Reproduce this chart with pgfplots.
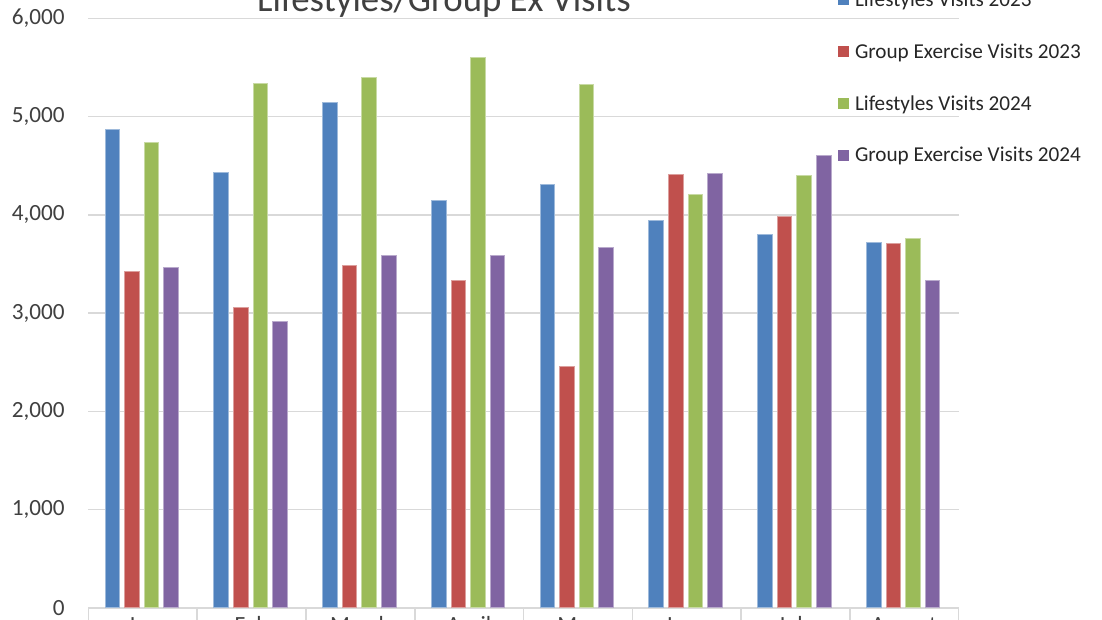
\documentclass[border=0pt]{standalone}
\usepackage{fontspec}
\setmainfont{Carlito}
\usepackage{pgfplots}
\usepackage{pgfplotstable}
\pgfplotsset{compat=1.18}
\definecolor{cblue}{HTML}{4F81BD}
\definecolor{cred}{HTML}{C0504D}
\definecolor{cgreen}{HTML}{9BBB59}
\definecolor{cpurple}{HTML}{8064A2}
\definecolor{gridgray}{HTML}{D9D9D9}
\definecolor{txt}{HTML}{404040}
\definecolor{legtxt}{HTML}{262626}

\pgfplotstableread{
x ls23 ge23 ls24 ge24
0 4870 3420 4740 3460
1 4430 3055 5340 2915
2 5145 3485 5395 3590
3 4150 3330 5605 3590
4 4310 2455 5330 3670
5 3945 4415 4205 4425
6 3800 3980 4400 4600
7 3720 3705 3760 3330
}\visits

\begin{document}
\begin{tikzpicture}
\path[use as bounding box] (-44.25pt,-6pt) rectangle (506.75pt,304pt);
\begin{scope}[overlay]
\clip (-44.25pt,-6pt) rectangle (506.75pt,304pt);
\begin{axis}[
  at={(0pt,0pt)}, anchor=south west, scale only axis,
  width=435pt, height=294.85pt,
  xmin=-0.5, xmax=7.5, ymin=0, ymax=6000,
  axis x line*=bottom, axis y line*=left,
  x axis line style={draw=gridgray, line width=0.75pt, -},
  y axis line style={draw=none},
  ytick={0,1000,...,6000},
  ymajorgrids, grid style={draw=gridgray, line width=0.75pt},
  major y tick style={draw=none},
  yticklabel style={font=\fontsize{11.6}{13}\selectfont, text=txt, anchor=east, inner sep=0pt, xshift=-11.75pt},
  /pgf/number format/assume math mode=true,
  /pgf/number format/1000 sep={,},
  scaled y ticks=false,
  xtick={0,1,2,3,4,5,6,7},
  xticklabels={Jan,Feb,March,April,May,June,July,August},
  major x tick style={draw=none},
  xticklabel style={font=\fontsize{11.6}{13}\selectfont, text=txt, anchor=base, inner sep=0pt, yshift=-8.1pt},
  extra x ticks={-0.5,0.5,1.5,2.5,3.5,4.5,5.5,6.5,7.5},
  extra x tick labels={},
  extra x tick style={grid=none, tick align=outside, major tick length=20pt,
     major x tick style={draw=gridgray, line width=0.75pt}},
  ybar, bar width=7.3pt,
  title={Lifestyles/Group Ex Visits},
  title style={at={(0.4086,1.01408)}, anchor=base, yshift=-6.8pt, font=\fontsize{18.4}{22}\selectfont, text=txt, inner sep=0pt},
  legend style={at={(0.8615,1.0471)}, anchor=north west, draw=none, fill=none,
     inner sep=0pt, outer sep=0pt, row sep=15.9pt, column sep=3pt,
     font=\fontsize{10.6}{12}\selectfont, text=legtxt,
     nodes={inner sep=0pt, text height=8pt, text depth=2pt, anchor=base west}},
  legend cell align=left,
  legend image code/.code={\fill[#1, draw=none] (0pt,0.6pt) rectangle (5.5pt,6.1pt);},
]
\addplot[fill=cblue, draw=cblue!55!white, line width=0.5pt, bar shift=-15.2pt] table[x=x, y=ls23] {\visits};
\addplot[fill=cred, draw=cred!55!white, line width=0.5pt, bar shift=-5.4pt] table[x=x, y=ge23] {\visits};
\addplot[fill=cgreen, draw=cgreen!55!white, line width=0.5pt, bar shift=4.4pt] table[x=x, y=ls24] {\visits};
\addplot[fill=cpurple, draw=cpurple!55!white, line width=0.5pt, bar shift=14.2pt] table[x=x, y=ge24] {\visits};
\legend{Lifestyles Visits 2023, Group Exercise Visits 2023, Lifestyles Visits 2024, Group Exercise Visits 2024}
\end{axis}
\end{scope}
\end{tikzpicture}
\end{document}
